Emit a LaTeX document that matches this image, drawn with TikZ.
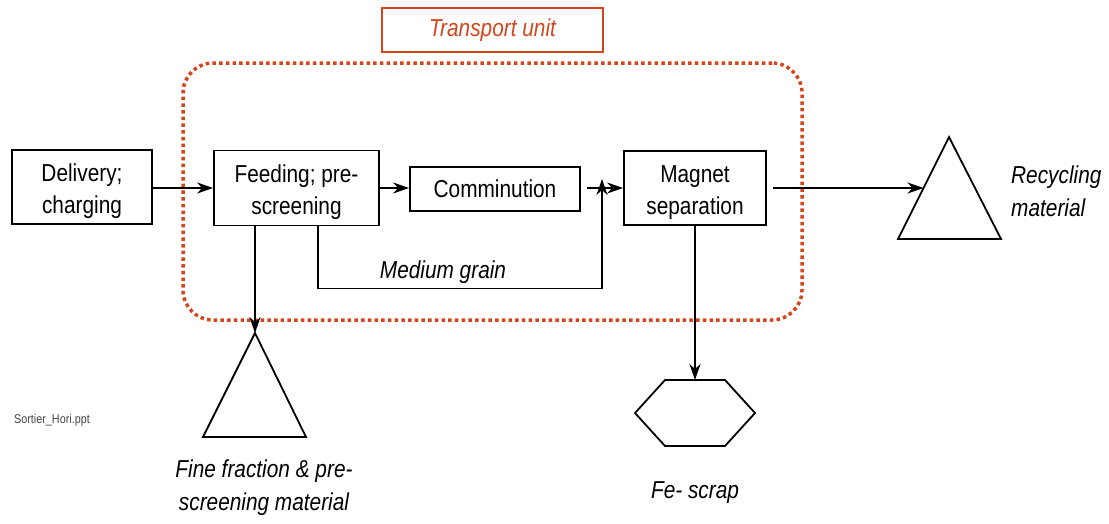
\documentclass[tikz,border=0pt]{standalone}
\usepackage{fontspec}
\setmainfont[FakeStretch=0.85]{Liberation Sans}
\usetikzlibrary{arrows.meta,calc}
\definecolor{unitred}{HTML}{D5451B}
\definecolor{notegray}{HTML}{444444}
\newcommand{\topgap}{\rule{0pt}{27pt}}
\tikzset{
  lbl/.style={font=\fontsize{24.5}{32}\selectfont, align=center, inner sep=0pt},
  ilbl/.style={lbl, font=\fontsize{24.5}{33}\selectfont\itshape},
  box/.style={lbl, draw, line width=1.8pt},
  arr/.style={line width=1.6pt, -{Stealth[length=16pt,width=11pt,inset=5pt]}},
  outline/.style={line width=1.8pt, line join=miter},
  unitframe/.style={draw=unitred, line width=3.5pt, dash pattern=on 3.5pt off 3.2pt,
                    rounded corners=30pt, inner sep=0pt},
}
\begin{document}
\begin{tikzpicture}[x=1pt,y=-1pt]
\useasboundingbox (0,0) rectangle (1109,523);

% transport unit frame and its caption
\node[unitframe, minimum width=619pt, minimum height=257pt] (unit) at (492.5,191.5) {};
\node[ilbl, draw=unitred, text=unitred, line width=1.8pt,
      minimum width=221pt, minimum height=44pt] (unitcap) at (492.5,30) {Transport unit};

% process boxes
\node[box, minimum width=140pt, minimum height=74pt] (del)  at (82,187)    {\topgap Delivery;\\charging};
\node[box, minimum width=165pt, minimum height=75pt] (feed) at (296.5,188) {\topgap Feeding; pre-\\screening};
\node[box, minimum width=170pt, minimum height=44pt] (comm) at (495,189)   {Comminution};
\node[box, minimum width=142pt, minimum height=74pt] (mag)  at (695,188)   {\topgap Magnet\\separation};

% output symbols
\coordinate (fineapex) at (255,333);
\draw[outline] (fineapex) -- (203,437) -- (306,437) -- cycle;
\coordinate (recapex) at (949,137);
\draw[outline] (recapex) -- (898,239) -- (1001,239) -- cycle;
\coordinate (recedge) at (923.5,188);
\coordinate (hextop) at (695,380);
\draw[outline] (665,380) -- (725,380) -- (755,413) -- (725,446) -- (665,446) -- (635,413) -- cycle;

% connectors
\coordinate (join) at (602,188);
\draw[arr] (del.east |- feed.west) -- (feed.west);
\draw[arr] (feed.east) -- (feed.east -| comm.west);
\draw[arr, shorten <=6pt] (comm.east |- join) -- (join -| mag.west);
\draw[arr] ([xshift=21.5pt]feed.south) -- ++(0,62) -| ([yshift=9pt]join);
\draw[arr] ([xshift=-41.5pt]feed.south) -- (fineapex);
\draw[arr] (mag.south) -- (hextop);
\draw[arr, shorten <=6pt] (mag.east) -- (recedge);

% labels
\node[ilbl] (medium) at (443,272) {Medium grain};
\node[ilbl, align=left, anchor=west] (recyc) at (1011,191) {Recycling\\material};
\node[ilbl] (fine) at (264,488) {Fine fraction \& pre-\\screening material};
\node[ilbl] (fe) at (695,493) {Fe- scrap};
\node[font=\fontsize{12.7}{15}\selectfont, text=notegray, anchor=west, inner sep=0pt] (file) at (14,420) {Sortier\_Hori.ppt};
\end{tikzpicture}
\end{document}
